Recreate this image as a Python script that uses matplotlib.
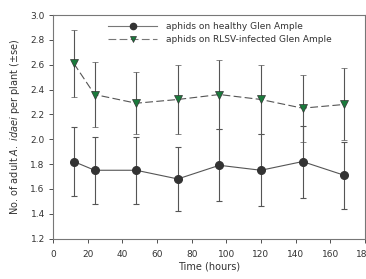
import matplotlib
matplotlib.use('Agg')
import matplotlib.pyplot as plt
from matplotlib.lines import Line2D

plt.rcParams['font.family'] = 'DejaVu Sans'
plt.rcParams['mathtext.fontset'] = 'dejavusans'

hours = [12, 24, 48, 72, 96, 120, 144, 168]
healthy = [1.82, 1.75, 1.75, 1.68, 1.79, 1.75, 1.82, 1.71]
healthy_se = [0.28, 0.27, 0.27, 0.26, 0.29, 0.29, 0.29, 0.27]
infected = [2.61, 2.36, 2.29, 2.32, 2.36, 2.32, 2.25, 2.28]
infected_se = [0.27, 0.26, 0.25, 0.28, 0.28, 0.28, 0.27, 0.29]
labels = ['aphids on healthy Glen Ample', 'aphids on RLSV-infected Glen Ample']

fig = plt.figure(figsize=(3.66, 2.79), dpi=100)
ax = fig.add_axes([0.145, 0.145, 0.852, 0.801])

dash = (0, (7, 3))
ax.errorbar(hours, healthy, yerr=healthy_se, color='#555555', lw=0.8,
            marker='o', ms=5.5, mfc='#333333', mec='#333333',
            ecolor='#555555', elinewidth=0.8, capsize=2.5, capthick=0.8)
ax.errorbar(hours, infected, yerr=infected_se, color='#555555', lw=0.8,
            ls=dash, marker='v', ms=6, mfc='#1a7a3c', mec='#333333',
            mew=0.5, ecolor='#555555', elinewidth=0.8, capsize=2.5,
            capthick=0.8)

ax.set_xlim(0, 180)
ax.set_ylim(1.2, 3.0)
ax.set_xticks(range(0, 181, 20))
ax.set_yticks([1.2, 1.4, 1.6, 1.8, 2.0, 2.2, 2.4, 2.6, 2.8, 3.0])
ax.set_yticklabels(['%.1f' % v for v in ax.get_yticks()])
ax.tick_params(labelsize=6.5, colors='#333333', length=3, width=0.6,
               direction='out', pad=5)
ax.tick_params(axis='y', pad=3)
for s in ax.spines.values():
    s.set_color('#777777')
    s.set_linewidth(0.8)

ax.set_xlabel('Time (hours)', fontsize=7, color='#333333', labelpad=2)
ax.set_ylabel(r'No. of adult $\mathit{A.\ idaei}$ per plant ($\pm$se)',
              fontsize=7, color='#333333', labelpad=6)

handles = [
    Line2D([], [], color='#777777', lw=0.8, marker='o', ms=4.5,
           mfc='#333333', mec='#333333'),
    Line2D([], [], color='#777777', lw=0.8, ls=dash, marker='v', ms=5,
           mfc='#1a7a3c', mec='#333333', mew=0.5),
]
leg = ax.legend(handles, labels, loc='upper left',
                bbox_to_anchor=(0.165, 0.985), frameon=False,
                fontsize=6.5, handlelength=5.4, handletextpad=1.0,
                labelspacing=0.45, borderaxespad=0)
for t in leg.get_texts():
    t.set_color('#333333')

fig.savefig('out.png', dpi=100)
